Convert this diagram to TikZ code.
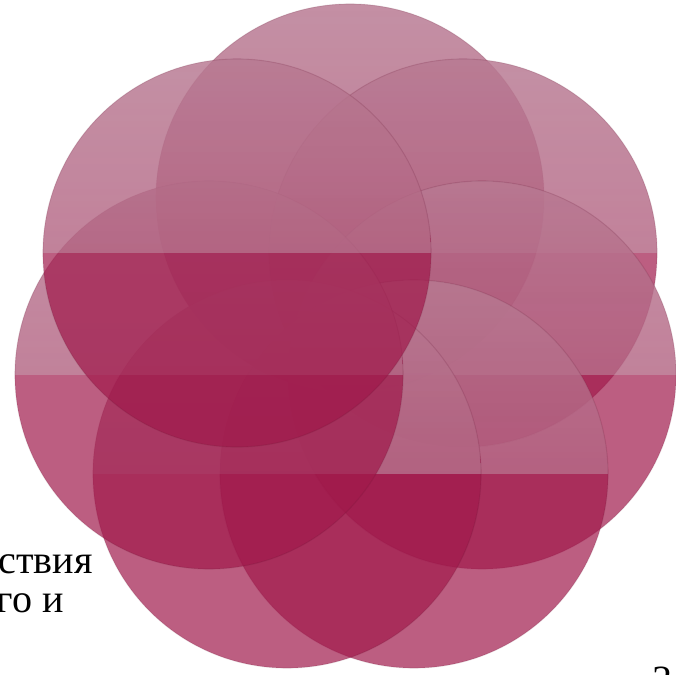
\documentclass[tikz,border=0pt]{standalone}
\usepackage{fontspec}
\setmainfont{Liberation Serif}
\usetikzlibrary{fadings}

\definecolor{petalred}{RGB}{160,25,75}
\definecolor{glossgrey}{RGB}{205,205,208}
\tikzfading[name=gloss, top color=transparent!55, bottom color=transparent!80]

\begin{document}
\begin{tikzpicture}[x=0.025cm, y=-0.025cm,
    petal/.style={circle, inner sep=0pt, minimum size=9.7cm, fill=petalred, fill opacity=0.7,
      draw=petalred!50!black, draw opacity=0.12, line width=0.8pt,
      path picture={\fill[glossgrey, fill opacity=1, path fading=gloss]
        (path picture bounding box.north west) rectangle (path picture bounding box.east);}},
    txt/.style={anchor=base east, inner sep=0pt, font=\fontsize{28.5}{34}\selectfont}]
    \useasboundingbox (0,0) rectangle (676,675);
    % text of the slide behind
    \node[txt] (line1) at (93,573) {йствия};
    \node[txt] (line2) at (64,612) {ого и};
    \node[txt] (pagenum) at (673,693) {3};
    % seven petals
    \node[petal] (top) at (350,198) {};
    \node[petal] (tr) at (463,253) {};
    \node[petal] (right) at (482,375) {};
    \node[petal] (br) at (414,474) {};
    \node[petal] (bl) at (287,474) {};
    \node[petal] (left) at (209,375) {};
    \node[petal] (tl) at (237,253) {};
\end{tikzpicture}
\end{document}
